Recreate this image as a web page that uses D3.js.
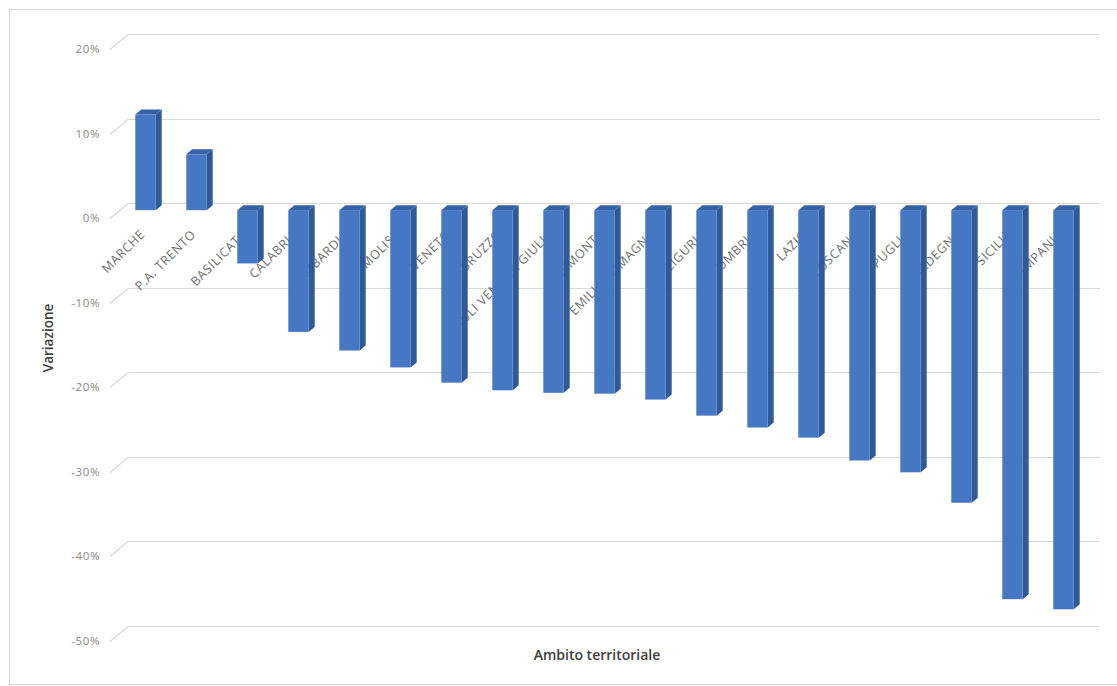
<!DOCTYPE html>
<html>
<head>
<meta charset="utf-8">
<script src="https://cdn.jsdelivr.net/npm/d3@7"></script>
<style>
  html, body { margin: 0; padding: 0; background: #ffffff; }
  svg { display: block; font-family: "Open Sans", Lato, "Liberation Sans", sans-serif; }
</style>
</head>
<body>
<svg id="chart" width="1117" height="686"></svg>
<script>
// ---- data ----
const categories = ["MARCHE", "P.A. TRENTO", "BASILICATA", "CALABRIA", "LOMBARDIA", "MOLISE", "VENETO",
  "ABRUZZO", "FRIULI VENEZIA GIULIA", "PIEMONTE", "EMILIA ROMAGNA", "LIGURIA", "UMBRIA", "LAZIO",
  "TOSCANA", "PUGLIA", "SARDEGNA", "SICILIA", "CAMPANIA"];
const values = [0.113, 0.066, -0.063, -0.144, -0.166, -0.186, -0.204,
  -0.213, -0.216, -0.217, -0.224, -0.243, -0.257, -0.269,
  -0.296, -0.310, -0.346, -0.460, -0.472];
const yTicks = [0.2, 0.1, 0, -0.1, -0.2, -0.3, -0.4, -0.5];
const yTickLabels = ["20%", "10%", "0%", "-10%", "-20%", "-30%", "-40%", "-50%"];
const yTitle = "Variazione";
const xTitle = "Ambito territoriale";

// ---- layout ----
const svg = d3.select("#chart");

// chart border (right edge lies outside the picture)
svg.append("rect").attr("x", 9.5).attr("y", 9.5).attr("width", 1120).attr("height", 675)
  .attr("fill", "#fff").attr("stroke", "#d9d9d9").attr("stroke-width", 1);

const wallLeft = 128, wallRight = 1100;
const y = d3.scaleLinear().domain([-0.5, 0.2]).range([626, 34]);
const x = d3.scaleBand().domain(categories).range([120, 1089]).paddingInner(0.6).paddingOuter(0.3);

// gridlines (back wall) with diagonal to the front
const grid = svg.append("g");
yTicks.forEach((t, i) => {
  const gy = Math.round(y(t)) + 0.5;
  grid.append("line").attr("x1", wallLeft).attr("x2", wallRight).attr("y1", gy).attr("y2", gy)
    .attr("stroke", "#d9d9d9").attr("stroke-width", 1.2);
  grid.append("line").attr("x1", 110).attr("y1", gy + 15).attr("x2", wallLeft).attr("y2", gy)
    .attr("stroke", "#d9d9d9").attr("stroke-width", 1.2);
  grid.append("text").attr("x", 100).attr("y", gy + 18).attr("text-anchor", "end")
    .attr("font-size", 11.5).attr("letter-spacing", 0.6).attr("fill", "#8a8a8a").text(yTickLabels[i]);
});

// category labels (drawn behind bars)
const dyFront = 7, depthX = 6, depthY = 5;
svg.append("g").selectAll("text").data(categories).join("text")
  .attr("transform", d => `translate(${x(d) + x.bandwidth() / 2},${y(0) + dyFront + 25}) rotate(-45)`)
  .attr("text-anchor", "end")
  .attr("font-size", 12.5)
  .attr("letter-spacing", 0.6)
  .attr("fill", "#707070")
  .text(d => d);

// 3D bars
const bars = svg.append("g");
categories.forEach((c, i) => {
  const v = values[i];
  const x0 = x(c), x1 = x0 + x.bandwidth();
  const yTopV = Math.min(y(v), y(0)) + dyFront;
  const yBotV = Math.max(y(v), y(0)) + dyFront;
  const g = bars.append("g");
  g.append("path").attr("d", `M${x1},${yTopV} L${x1 + depthX},${yTopV - depthY} L${x1 + depthX},${yBotV - depthY} L${x1},${yBotV} Z`)
    .attr("fill", "#2f5a97");
  g.append("rect").attr("x", x0).attr("y", yTopV).attr("width", x1 - x0).attr("height", yBotV - yTopV)
    .attr("fill", "#4677c2");
  g.append("path").attr("d", `M${x0},${yTopV} L${x1},${yTopV} L${x1 + depthX},${yTopV - depthY} L${x0 + depthX},${yTopV - depthY} Z`)
    .attr("fill", "#3561a6");
});

// axis titles
svg.append("text").attr("transform", `translate(53,${338}) rotate(-90)`).attr("text-anchor", "middle")
  .attr("font-size", 13.5).attr("font-weight", 600).attr("fill", "#404040").text(yTitle);
svg.append("text").attr("x", 597).attr("y", 660).attr("text-anchor", "middle")
  .attr("font-size", 14).attr("font-weight", 600).attr("fill", "#404040").text(xTitle);
</script>
</body>
</html>
